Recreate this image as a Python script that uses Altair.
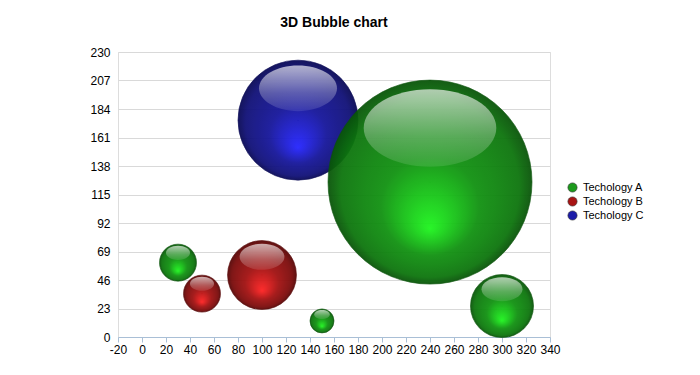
import altair as alt
import pandas as pd

# ---- data ----
tech_a_x = [30, 150, 240, 300]
tech_a_y = [60, 13, 125, 25]
tech_a_z = [9.5, 4, 289, 27.6]

tech_b_x = [50, 100]
tech_b_y = [35, 50]
tech_b_z = [9.5, 33]

tech_c_x = [130]
tech_c_y = [175]
tech_c_z = [100]

series_names = ["Techology A", "Techology B", "Techology C"]
x_ticks = list(range(-20, 341, 20))
y_ticks = list(range(0, 231, 23))

rows = []
for name, xs, ys, zs in [
    (series_names[0], tech_a_x, tech_a_y, tech_a_z),
    (series_names[1], tech_b_x, tech_b_y, tech_b_z),
    (series_names[2], tech_c_x, tech_c_y, tech_c_z),
]:
    for x, y, z in zip(xs, ys, zs):
        rows.append({"x": x, "y": y, "z": z, "tech": name})
df = pd.DataFrame(rows)

# ---- styles ----
palettes = {
    "Techology A": ["#1ef51e", "#119211", "#0d760d", "#095409"],
    "Techology B": ["#ff2222", "#a21111", "#7a0b0b", "#560606"],
    "Techology C": ["#2424ff", "#16169a", "#101078", "#090955"],
}
legend_colors = ["#1c9a1c", "#a81414", "#1c1ca8"]

FONT = "Liberation Sans"
xs = alt.X("x:Q", scale=alt.Scale(domain=[-20, 340], nice=False, zero=False),
           axis=alt.Axis(values=x_ticks, title=None, grid=False, domainColor="#a9bfd6",
                         tickColor="#a9bfd6", tickSize=5, labelPadding=2,
                         labelFontSize=12, labelColor="#000", labelFont=FONT,
                         labelFlush=False, labelExpr="'' + datum.value"))
ys = alt.Y("y:Q", scale=alt.Scale(domain=[0, 230], nice=False),
           axis=alt.Axis(values=y_ticks, title=None, domain=False, ticks=False,
                         labelPadding=8, gridColor="#d9d9d9", labelFontSize=12,
                         labelColor="#000", labelFont=FONT))
size_enc = alt.Size("z:Q", scale=alt.Scale(domain=[0, 289], range=[0, 41616]), legend=None)

# highlight ellipse path (unit coordinates)
k = 0.5523
cx, cy, rx, ry = 0.0, -0.53, 0.65, 0.38
hp = (f"M {cx+rx} {cy} "
      f"C {cx+rx} {cy+ry*k} {cx+rx*k} {cy+ry} {cx} {cy+ry} "
      f"C {cx-rx*k} {cy+ry} {cx-rx} {cy+ry*k} {cx-rx} {cy} "
      f"C {cx-rx} {cy-ry*k} {cx-rx*k} {cy-ry} {cx} {cy-ry} "
      f"C {cx+rx*k} {cy-ry} {cx+rx} {cy-ry*k} {cx+rx} {cy} Z")

highlight = alt.LinearGradient(
    gradient="linear",
    stops=[alt.GradientStop(color="rgba(255,255,255,0.66)", offset=0),
           alt.GradientStop(color="rgba(255,255,255,0.28)", offset=0.6),
           alt.GradientStop(color="rgba(255,255,255,0.1)", offset=1)],
    x1=0, y1=0, x2=0, y2=1)

base = alt.Chart(df)

# legend layer: tiny points hidden under bubble centers
legend_layer = base.mark_circle(opacity=1, size=1).encode(
    x=xs, y=ys,
    color=alt.Color("tech:N", scale=alt.Scale(domain=series_names, range=legend_colors),
                    legend=alt.Legend(title=None, orient="none", legendX=449, legendY=130,
                                      symbolType="circle", symbolSize=85, padding=0,
                                      rowPadding=1, labelFontSize=11, labelFont=FONT,
                                      labelColor="#000", labelOffset=5,
                                      symbolStrokeColor="#333", symbolStrokeWidth=0.6,
                                      symbolOpacity=1)),
)

layers = [legend_layer]
for name in ["Techology C", "Techology B", "Techology A"]:
    c = palettes[name]
    grad = alt.RadialGradient(
        gradient="radial",
        stops=[alt.GradientStop(color=c[0], offset=0),
               alt.GradientStop(color=c[1], offset=0.48),
               alt.GradientStop(color=c[2], offset=0.87),
               alt.GradientStop(color=c[3], offset=1)],
        x1=0.5, y1=0.73, r1=0, x2=0.5, y2=0.5, r2=0.5)
    sub = base.transform_filter(alt.datum.tech == name)
    bubble = sub.mark_point(shape="circle", filled=True, fill=grad, opacity=0.95,
                            stroke=c[3], strokeWidth=0.8, strokeOpacity=0.8).encode(
        x=xs, y=ys, size=size_enc)
    shine = sub.mark_point(shape=hp, filled=True, fill=highlight, opacity=1,
                           strokeWidth=0).encode(x=xs, y=ys, size=size_enc)
    layers += [bubble, shine]

chart = alt.layer(*layers).properties(
    width=432, height=285,
    title=alt.TitleParams("3D Bubble chart", fontSize=14, fontWeight="bold", font=FONT,
                          color="#000", anchor="middle", offset=16),
    autosize=alt.AutoSizeParams(type="none"),
    padding={"left": 110, "top": 44, "right": 142, "bottom": 30},
).configure_view(stroke=None).configure(background="white")

chart.save("out.html", embed_options={"renderer": "svg", "actions": False})
